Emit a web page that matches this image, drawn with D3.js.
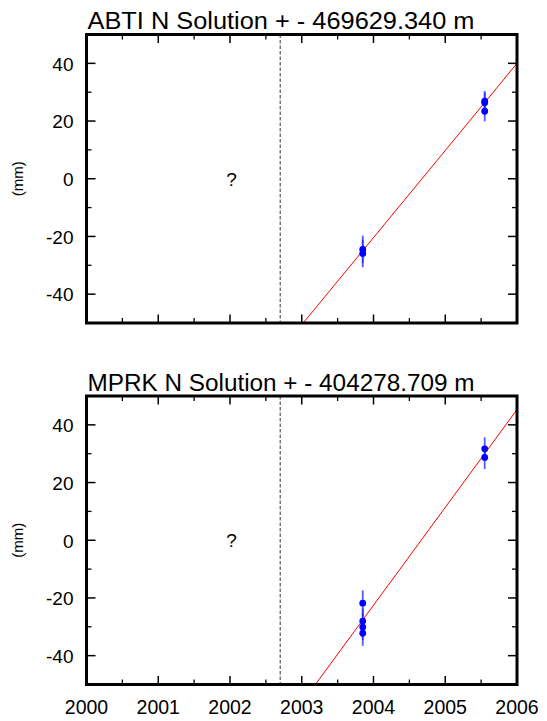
<!DOCTYPE html>
<html>
<head>
<meta charset="utf-8">
<script src="https://cdn.jsdelivr.net/npm/d3@7"></script>
<style>
  body { margin: 0; background: #fff; }
  text { font-family: "Liberation Sans", Arial, sans-serif; fill: #000; }
</style>
</head>
<body>
<div id="chart"></div>
<script>
// Panel titles and data
const titles = ["ABTI N Solution + - 469629.340 m", "MPRK N Solution + - 404278.709 m"];
const epochs = [
  [2003.85, 2003.85, 2005.55, 2005.55, 2005.55],
  [2003.85, 2003.85, 2003.85, 2003.85, 2005.55, 2005.55]
];
const values = [
  [-24.5, -25.9, 26.9, 26.3, 23.4],
  [-21.8, -28.0, -30.1, -32.2, 31.7, 28.7]
];
const sigmas = [
  [4.8, 4.8, 3.5, 3.5, 3.5],
  [4.4, 4.4, 4.4, 4.4, 4.0, 4.0]
];
// fitted trend line end points [year, mm]
const fitLines = [
  [[2003.02, -50], [2006, 40]],
  [[2003.19, -50], [2006, 45.3]]
];
const breakYear = 2002.7;
const yearTicks = [2000, 2001, 2002, 2003, 2004, 2005, 2006];
const mmTicks = [-40, -20, 0, 20, 40];
const mmMinor = [-30, -10, 10, 30];

const W = 547, H = 721;
const svg = d3.select("#chart").append("svg")
    .attr("width", W).attr("height", H);

const left = 86.5, right = 517;
const x = d3.scaleLinear().domain([2000, 2006]).range([left, right]);
const panelTops = [34.5, 396];
const panelH = 288.5;

titles.forEach((title, p) => {
    const top = panelTops[p];
    const bottom = top + panelH;
    const y = d3.scaleLinear().domain([-50, 50]).range([bottom, top]);
    const g = svg.append("g");

    // title
    g.append("text")
        .attr("x", left + 1).attr("y", top - 5.5)
        .attr("textLength", 387)
        .attr("lengthAdjust", "spacingAndGlyphs")
        .style("font-size", "23px")
        .text(title);

    // x ticks, top and bottom, inward
    const xMinor = d3.range(2000.5, 2006, 1);
    const tick = (x1, y1, x2, y2, w) => g.append("line")
        .attr("x1", x1).attr("y1", y1).attr("x2", x2).attr("y2", y2)
        .attr("stroke", "#000").attr("stroke-width", w);
    yearTicks.forEach(t => {
        tick(x(t), top, x(t), top + 8.5, 1.5);
        tick(x(t), bottom, x(t), bottom - 8.5, 1.5);
    });
    xMinor.forEach(t => {
        tick(x(t), top, x(t), top + 5, 1.3);
        tick(x(t), bottom, x(t), bottom - 5, 1.3);
    });

    // y ticks, left and right, inward
    mmTicks.forEach(v => {
        tick(left, y(v), left + 9, y(v), 1.5);
        tick(right, y(v), right - 9, y(v), 1.5);
        g.append("text")
            .attr("x", 73.5).attr("y", y(v) + 7.3)
            .attr("text-anchor", "end")
            .style("font-size", "19px")
            .text(v);
    });
    mmMinor.forEach(v => {
        tick(left, y(v), left + 5, y(v), 1.3);
        tick(right, y(v), right - 5, y(v), 1.3);
    });

    // y label
    g.append("text")
        .attr("transform", `translate(23,${y(0)}) rotate(-90)`)
        .attr("text-anchor", "middle")
        .style("font-size", "15px")
        .text("(mm)");

    // "?" marker
    g.append("text")
        .attr("x", x(2002.02)).attr("y", y(0) + 7)
        .attr("text-anchor", "middle")
        .style("font-size", "19px")
        .text("?");

    // break line
    g.append("line")
        .attr("x1", x(breakYear)).attr("x2", x(breakYear))
        .attr("y1", top).attr("y2", bottom)
        .attr("stroke", "#555").attr("stroke-width", 1.2)
        .attr("stroke-dasharray", "3.5,2");

    // fit line
    const line = d3.line().x(d => x(d[0])).y(d => y(d[1]));
    g.append("path")
        .datum(fitLines[p])
        .attr("d", line)
        .attr("fill", "none")
        .attr("stroke", "#ff0000")
        .attr("stroke-width", 1);

    // error bars and points
    const pts = epochs[p].map((t, i) => ({ t, v: values[p][i], s: sigmas[p][i] }));
    g.selectAll(".err").data(pts).enter().append("line")
        .attr("x1", d => x(d.t)).attr("x2", d => x(d.t))
        .attr("y1", d => y(d.v - d.s)).attr("y2", d => y(d.v + d.s))
        .attr("stroke", "#2222ff").attr("stroke-opacity", 0.75).attr("stroke-width", 1.8);
    g.selectAll(".pt").data(pts).enter().append("circle")
        .attr("cx", d => x(d.t)).attr("cy", d => y(d.v))
        .attr("r", 3.4)
        .attr("fill", "#0000ff");

    // frame
    g.append("rect")
        .attr("x", left).attr("y", top)
        .attr("width", right - left).attr("height", panelH)
        .attr("fill", "none").attr("stroke", "#000").attr("stroke-width", 3);

    // x labels on bottom panel only
    if (p === titles.length - 1) {
        yearTicks.forEach(t => {
            g.append("text")
                .attr("x", x(t)).attr("y", bottom + 29)
                .attr("text-anchor", "middle")
                .style("font-size", "19.5px")
                .text(t);
        });
    }
});
</script>
</body>
</html>
